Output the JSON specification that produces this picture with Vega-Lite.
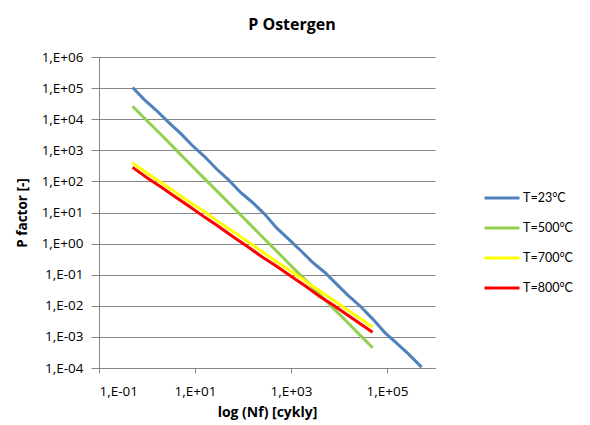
{
  "$schema": "https://vega.github.io/schema/vega-lite/v6.json",
  "width": 336,
  "height": 311,
  "autosize": {"type": "none"},
  "padding": {"left": 99, "top": 57, "right": 155, "bottom": 57},
  "background": "white",
  "title": {"text": "P Ostergen", "font": "Open Sans", "fontSize": 16, "fontWeight": "bold", "color": "#000000", "offset": 17, "dx": 25},
  "config": {"view": {"stroke": null}, "font": "Open Sans"},
  "data": {"values": [
    {"series": "T=23°C", "N": 0.5, "P": 1.05e5},
    {"series": "T=23°C", "N": 0.89, "P": 4.2e4},
    {"series": "T=23°C", "N": 1.58, "P": 1.9e4},
    {"series": "T=23°C", "N": 2.82, "P": 7.9e3},
    {"series": "T=23°C", "N": 5.01, "P": 3.5e3},
    {"series": "T=23°C", "N": 8.91, "P": 1.4e3},
    {"series": "T=23°C", "N": 15.8, "P": 630},
    {"series": "T=23°C", "N": 28.2, "P": 250},
    {"series": "T=23°C", "N": 50.1, "P": 112},
    {"series": "T=23°C", "N": 89.1, "P": 44},
    {"series": "T=23°C", "N": 158, "P": 21},
    {"series": "T=23°C", "N": 282, "P": 8.9},
    {"series": "T=23°C", "N": 501, "P": 3.2},
    {"series": "T=23°C", "N": 891, "P": 1.4},
    {"series": "T=23°C", "N": 1585, "P": 0.6},
    {"series": "T=23°C", "N": 2818, "P": 0.25},
    {"series": "T=23°C", "N": 5012, "P": 0.12},
    {"series": "T=23°C", "N": 8913, "P": 0.05},
    {"series": "T=23°C", "N": 15849, "P": 0.021},
    {"series": "T=23°C", "N": 28184, "P": 0.0095},
    {"series": "T=23°C", "N": 50119, "P": 0.0038},
    {"series": "T=23°C", "N": 89125, "P": 0.0014},
    {"series": "T=23°C", "N": 158489, "P": 0.00063},
    {"series": "T=23°C", "N": 281838, "P": 0.00028},
    {"series": "T=23°C", "N": 524807, "P": 0.000107},
    {"series": "T=500°C", "N": 0.5, "P": 2.6e4},
    {"series": "T=500°C", "N": 1, "P": 8.9e3},
    {"series": "T=500°C", "N": 2, "P": 3.1e3},
    {"series": "T=500°C", "N": 3.98, "P": 1050},
    {"series": "T=500°C", "N": 7.94, "P": 355},
    {"series": "T=500°C", "N": 15.8, "P": 123},
    {"series": "T=500°C", "N": 31.6, "P": 42},
    {"series": "T=500°C", "N": 63.1, "P": 14.5},
    {"series": "T=500°C", "N": 126, "P": 4.9},
    {"series": "T=500°C", "N": 251, "P": 1.66},
    {"series": "T=500°C", "N": 501, "P": 0.575},
    {"series": "T=500°C", "N": 1000, "P": 0.195},
    {"series": "T=500°C", "N": 1995, "P": 0.068},
    {"series": "T=500°C", "N": 3981, "P": 0.023},
    {"series": "T=500°C", "N": 7943, "P": 0.0078},
    {"series": "T=500°C", "N": 15849, "P": 0.0027},
    {"series": "T=500°C", "N": 28184, "P": 0.0011},
    {"series": "T=500°C", "N": 50119, "P": 0.00045},
    {"series": "T=700°C", "N": 0.5, "P": 389},
    {"series": "T=700°C", "N": 1, "P": 186},
    {"series": "T=700°C", "N": 2, "P": 91},
    {"series": "T=700°C", "N": 3.98, "P": 44},
    {"series": "T=700°C", "N": 7.94, "P": 21},
    {"series": "T=700°C", "N": 15.8, "P": 10.5},
    {"series": "T=700°C", "N": 31.6, "P": 4.9},
    {"series": "T=700°C", "N": 63.1, "P": 2.4},
    {"series": "T=700°C", "N": 126, "P": 1.15},
    {"series": "T=700°C", "N": 251, "P": 0.55},
    {"series": "T=700°C", "N": 501, "P": 0.26},
    {"series": "T=700°C", "N": 1000, "P": 0.129},
    {"series": "T=700°C", "N": 1995, "P": 0.062},
    {"series": "T=700°C", "N": 3981, "P": 0.03},
    {"series": "T=700°C", "N": 7943, "P": 0.0145},
    {"series": "T=700°C", "N": 15849, "P": 0.0069},
    {"series": "T=700°C", "N": 28184, "P": 0.0038},
    {"series": "T=700°C", "N": 50119, "P": 0.00204},
    {"series": "T=800°C", "N": 0.5, "P": 282},
    {"series": "T=800°C", "N": 1, "P": 132},
    {"series": "T=800°C", "N": 2, "P": 65},
    {"series": "T=800°C", "N": 3.98, "P": 31},
    {"series": "T=800°C", "N": 7.94, "P": 15},
    {"series": "T=800°C", "N": 15.8, "P": 7.1},
    {"series": "T=800°C", "N": 31.6, "P": 3.5},
    {"series": "T=800°C", "N": 63.1, "P": 1.62},
    {"series": "T=800°C", "N": 126, "P": 0.79},
    {"series": "T=800°C", "N": 251, "P": 0.37},
    {"series": "T=800°C", "N": 501, "P": 0.186},
    {"series": "T=800°C", "N": 1000, "P": 0.089},
    {"series": "T=800°C", "N": 1995, "P": 0.043},
    {"series": "T=800°C", "N": 3981, "P": 0.02},
    {"series": "T=800°C", "N": 7943, "P": 0.01},
    {"series": "T=800°C", "N": 15849, "P": 0.0048},
    {"series": "T=800°C", "N": 28184, "P": 0.0026},
    {"series": "T=800°C", "N": 50119, "P": 0.00141}
  ]},
  "mark": {"type": "line", "strokeWidth": 3, "interpolate": "linear"},
  "encoding": {
    "x": {
      "field": "N", "type": "quantitative",
      "scale": {"type": "log", "domain": [0.1, 1000000], "nice": false},
      "axis": {
        "title": "log (Nf) [cykly]", "titleFont": "Open Sans", "titleFontSize": 14, "titleFontWeight": "bold", "titleColor": "#000000", "titlePadding": 8,
        "values": [0.1, 10, 1000, 100000],
        "labelExpr": "'1,E' + (round(log(datum.value)/LN10) < 0 ? '-' : '+') + (abs(round(log(datum.value)/LN10)) < 10 ? '0' : '') + abs(round(log(datum.value)/LN10))",
        "labelFont": "Open Sans", "labelFontSize": 13.5, "labelColor": "#000000", "labelPadding": 11,
        "grid": false, "domainColor": "#868686", "tickColor": "#868686", "tickSize": 5
      }
    },
    "y": {
      "field": "P", "type": "quantitative",
      "scale": {"type": "log", "domain": [0.0001, 1000000], "nice": false},
      "axis": {
        "title": "P factor [-]", "titleFont": "Open Sans", "titleFontSize": 13.5, "titleFontWeight": "bold", "titleColor": "#000000", "titlePadding": 12,
        "values": [0.0001, 0.001, 0.01, 0.1, 1, 10, 100, 1000, 10000, 100000, 1000000],
        "labelExpr": "'1,E' + (round(log(datum.value)/LN10) < 0 ? '-' : '+') + (abs(round(log(datum.value)/LN10)) < 10 ? '0' : '') + abs(round(log(datum.value)/LN10))",
        "labelFont": "Open Sans", "labelFontSize": 13.5, "labelColor": "#000000", "labelPadding": 8,
        "grid": true, "gridColor": "#868686", "gridWidth": 1,
        "domainColor": "#868686", "tickColor": "#868686", "tickSize": 8
      }
    },
    "color": {
      "field": "series", "type": "nominal",
      "scale": {"domain": ["T=23°C", "T=500°C", "T=700°C", "T=800°C"], "range": ["#4F81BD", "#92D050", "#FFFF00", "#FF0000"]},
      "legend": {
        "title": null, "orient": "none", "legendX": 384, "legendY": 122,
        "symbolType": "stroke", "symbolSize": 1225, "symbolStrokeWidth": 3,
        "labelFont": "Lato", "labelFontSize": 12.5, "labelColor": "#000000", "labelOffset": 2,
        "rowPadding": 4
      }
    }
  }
}
